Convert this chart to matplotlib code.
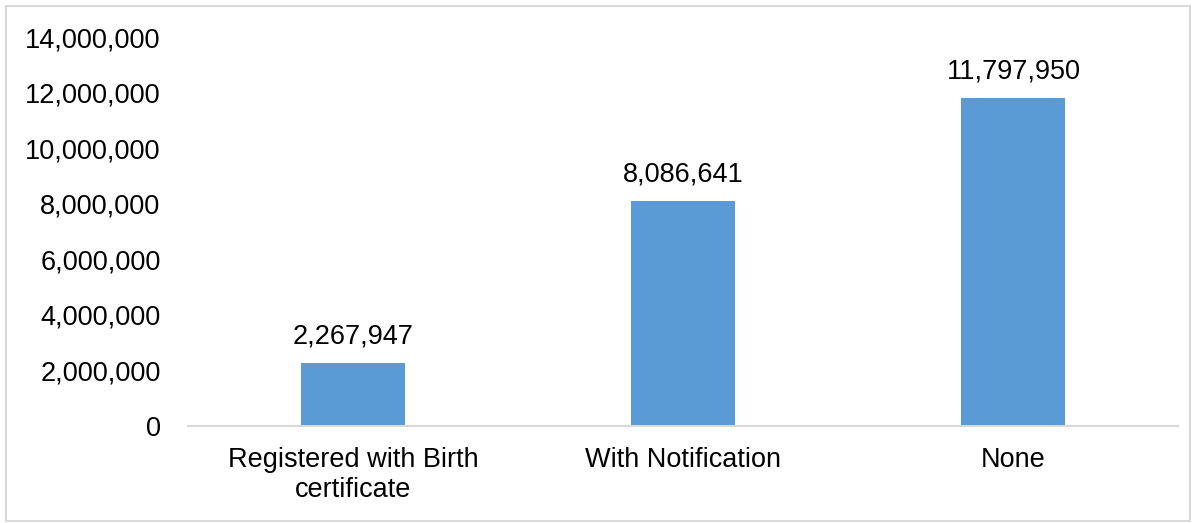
import matplotlib.pyplot as plt
from matplotlib.patches import Rectangle
from matplotlib.ticker import FuncFormatter

plt.rcParams['font.family'] = ['Liberation Sans', 'DejaVu Sans']

categories = ['Registered with Birth\ncertificate', 'With Notification', 'None']
values = [2267947, 8086641, 11797950]

fig = plt.figure(figsize=(12, 5.23), dpi=100)
ax = fig.add_axes([0.157, 0.1855, 0.825, 0.7435])

# outer chart border
fig.patches.append(Rectangle((6/1200, 2/523), 1184/1200, 515/523, transform=fig.transFigure,
                             fill=False, edgecolor='#D9D9D9', linewidth=1.5))

bars = ax.bar(range(len(values)), values, width=0.315, color='#5B9BD5')
for b, v in zip(bars, values):
    ax.annotate(f'{v:,}', (b.get_x() + b.get_width()/2, v), xytext=(0, 10),
                textcoords='offset points', ha='center', va='bottom', fontsize=19.5)

ax.set_xlim(-0.5, 2.5)
ax.set_ylim(0, 14000000)
ax.set_yticks(range(0, 14000001, 2000000))
ax.yaxis.set_major_formatter(FuncFormatter(lambda y, p: f'{int(y):,}'))
ax.set_xticks(range(len(categories)))
ax.set_xticklabels(categories, linespacing=1.2)
ax.tick_params(axis='both', length=0, labelsize=19.5)
ax.tick_params(axis='y', pad=20)
ax.tick_params(axis='x', pad=15)

for s in ['top', 'right', 'left']:
    ax.spines[s].set_visible(False)
ax.spines['bottom'].set_color('#D9D9D9')
ax.spines['bottom'].set_linewidth(1.5)

fig.savefig('out.png', dpi=100)
